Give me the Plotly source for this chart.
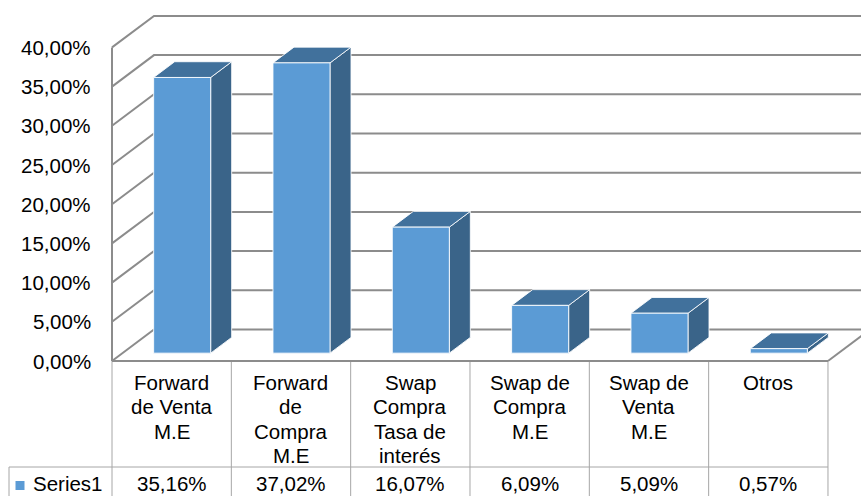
import plotly.graph_objects as go

# ---- data ----
categories = [
    "Forward\nde Venta\nM.E",
    "Forward\nde\nCompra\nM.E",
    "Swap\nCompra\nTasa de\ninterés",
    "Swap de\nCompra\nM.E",
    "Swap de\nVenta\nM.E",
    "Otros",
]
values = [35.16, 37.02, 16.07, 6.09, 5.09, 0.57]
series_name = "Series1"
tick_values = [0, 5, 10, 15, 20, 25, 30, 35, 40]
tick_labels = ["0,00%", "5,00%", "10,00%", "15,00%", "20,00%",
               "25,00%", "30,00%", "35,00%", "40,00%"]

# ---- layout geometry (oblique 3-D projection on a 2-D axis) ----
W, H = 861, 496
CAT_PX = 119.33          # pixels per category on the front plane
PCT_PX = 7.84            # pixels per percentage point
X0_PX, Y0_PX = 112, 361  # pixel position of the front-left floor corner
DX = 42 / CAT_PX         # depth offset of the back wall (x, in category units)
DY = 31.5 / PCT_PX       # depth offset of the back wall (y, in percent units)
BAR_W = 0.478            # bar width as a fraction of a category
D0, D1 = 0.25, 0.75      # bar depth span as fractions of the floor depth


def xd(px):
    return -0.5 + (px - X0_PX) / CAT_PX


def yd(py):
    return (Y0_PX - py) / PCT_PX


n = len(values)
x_min, x_max = xd(0), xd(W)
y_min, y_max = yd(H), yd(0)

FRONT = "#5B9BD5"
TOP = "#41719C"
SIDE = "#3A6489"
GRID = "#8C8C8C"
TABLE = "#A6A6A6"
FONT = dict(family="Liberation Sans, Arial, sans-serif", size=20.5, color="#000000")

fig = go.Figure()

# walls: left-wall diagonals + back-wall gridlines
gx, gy = [], []
for v in tick_values:
    gx += [-0.5, -0.5 + DX, x_max + 1, None]
    gy += [v, v + DY, v + DY, None]
# vertical axis edge and floor right edge
gx += [-0.5, -0.5, None, n - 0.5, n - 0.5 + DX, None]
gy += [0, tick_values[-1], None, 0, DY, None]
fig.add_trace(go.Scatter(x=gx, y=gy, mode="lines", hoverinfo="skip",
                         line=dict(color=GRID, width=2)))

# 3-D bars: side, top and front faces
for i, v in enumerate(values):
    xl = i - BAR_W / 2 + D0 * DX
    xr = i + BAR_W / 2 + D0 * DX
    yb = D0 * DY
    yt = v + D0 * DY
    ddx = (D1 - D0) * DX
    ddy = (D1 - D0) * DY
    faces = [
        ([xr, xr, xr + ddx, xr + ddx, xr], [yb, yt, yt + ddy, yb + ddy, yb], SIDE),
        ([xl, xr, xr + ddx, xl + ddx, xl], [yt, yt, yt + ddy, yt + ddy, yt], TOP),
        ([xl, xr, xr, xl, xl], [yb, yb, yt, yt, yb], FRONT),
    ]
    for fx, fy, col in faces:
        fig.add_trace(go.Scatter(x=fx, y=fy, mode="lines", fill="toself",
                                 fillcolor=col, hoverinfo="skip",
                                 line=dict(color="rgba(255,255,255,0.85)", width=1)))

# data table grid
tx, ty = [], []
for k in range(n + 1):
    tx += [k - 0.5, k - 0.5, None]
    ty += [0, y_min, None]
row_y = yd(467)
tx += [xd(9), n - 0.5, None, xd(9), xd(9), None]
ty += [row_y, row_y, None, row_y, y_min, None]
fig.add_trace(go.Scatter(x=tx, y=ty, mode="lines", hoverinfo="skip",
                         line=dict(color=TABLE, width=1)))

# floor front edge, drawn over the table grid
fig.add_trace(go.Scatter(x=[-0.5, n - 0.5], y=[0, 0], mode="lines", hoverinfo="skip",
                         line=dict(color=GRID, width=2)))

# legend key in the table
fig.add_trace(go.Scatter(x=[xd(20)], y=[yd(485.5)], mode="markers", hoverinfo="skip",
                         cliponaxis=False,
                         marker=dict(symbol="square", size=9, color=FRONT)))

annotations = []
# value-axis tick labels
for v, lab in zip(tick_values, tick_labels):
    annotations.append(dict(x=xd(93), y=v, text=lab, xanchor="right", yanchor="middle",
                            showarrow=False, font=FONT))
# category labels, one annotation per line
LINE_PX = 24.6
for i, cat in enumerate(categories):
    for j, line in enumerate(cat.split("\n")):
        annotations.append(dict(x=i, y=yd(382 + j * LINE_PX), text=line,
                                xanchor="center", yanchor="middle",
                                showarrow=False, font=FONT))
# value row
for i, v in enumerate(values):
    annotations.append(dict(x=i, y=yd(483), text=f"{v:.2f}%".replace(".", ","),
                            xanchor="center", yanchor="middle",
                            showarrow=False, font=FONT))
annotations.append(dict(x=xd(31), y=yd(483), text=series_name, xanchor="left",
                        yanchor="middle", showarrow=False, font=FONT))

fig.update_layout(
    width=W, height=H,
    margin=dict(l=0, r=0, t=0, b=0),
    paper_bgcolor="white", plot_bgcolor="white",
    showlegend=False,
    xaxis=dict(range=[x_min, x_max], visible=False, fixedrange=True),
    yaxis=dict(range=[y_min, y_max], visible=False, fixedrange=True),
    annotations=annotations,
)

fig.write_html("out.html")
